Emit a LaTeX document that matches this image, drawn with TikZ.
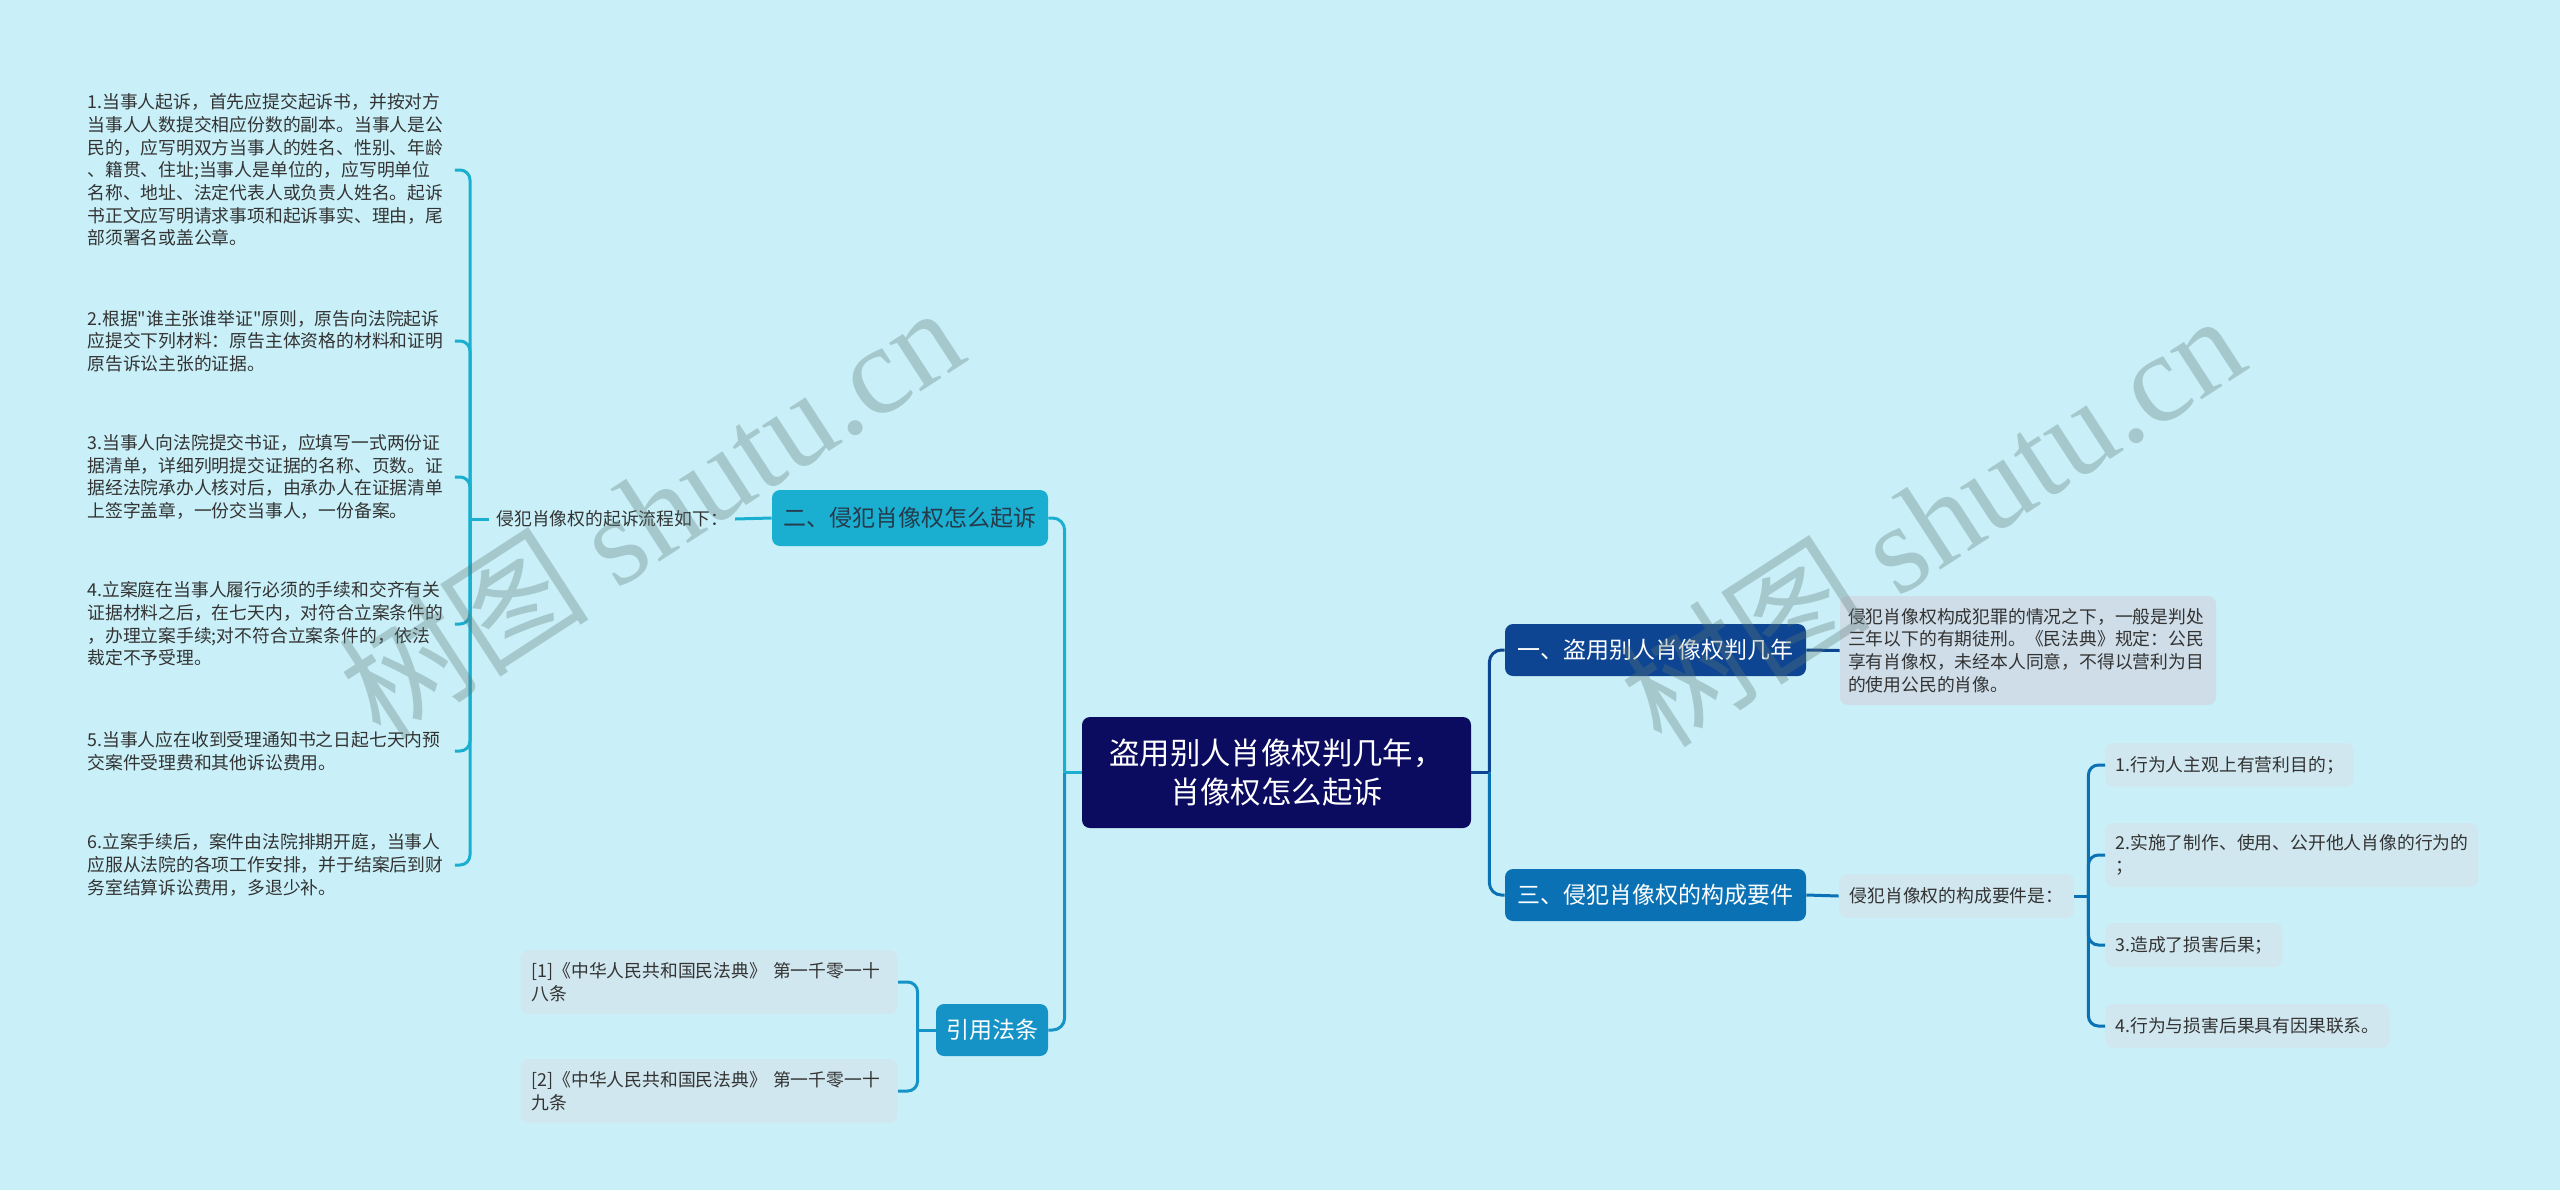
\documentclass[tikz,border=0pt]{standalone}
\usepackage{fontspec}
\setmainfont{Noto Sans CJK SC}
\newfontfamily\qtfont{Noto Sans CJK SC}
\newfontfamily\wmserif{Liberation Serif}
\usetikzlibrary{calc}
\definecolor{bgc}{HTML}{C9F0F8}
\definecolor{cnavy}{HTML}{0B0B60}
\definecolor{ccyan}{HTML}{1AAFD0}
\definecolor{cblue}{HTML}{1593C6}
\definecolor{cdark}{HTML}{0E4592}
\definecolor{cmid}{HTML}{0A72B4}
\definecolor{cdetail}{HTML}{CEDDE8}
\definecolor{cleaf}{HTML}{D0E7EF}
\definecolor{ctext}{HTML}{333333}
\definecolor{cbtext}{HTML}{253B4C}
\definecolor{cwm}{HTML}{5E7875}
\begin{document}
\begin{tikzpicture}[x=0.5pt,y=-0.5pt,
  conn/.style={draw=#1, line width=1.5pt},
  leaf/.style={font=\fontsize{8.9}{11.35}\selectfont, text=ctext, align=left, inner xsep=3.5pt, inner ysep=3pt},
  lbox/.style={leaf, fill=cleaf, rounded corners=4pt},
  branch/.style={font=\fontsize{11.5}{14}\selectfont, rounded corners=4pt, inner sep=0pt, align=center},
  wmark/.style={rotate=33, text=cwm, text opacity=0.33, font=\fontsize{63}{70}\selectfont}
]
\fill[bgc] (0,0) rectangle (2560,1190);
\useasboundingbox (0,0) rectangle (2560,1190);

% central node
\node[branch, fill=cnavy, text=white, minimum width=194.5pt, minimum height=55.5pt,
  font=\fontsize{15.2}{19.5}\selectfont] (c) at (1276.5,772.5)
  {盗用别人肖像权判几年，\\肖像权怎么起诉};

% main branches
\node[branch, fill=ccyan, text=cbtext, minimum width=138pt, minimum height=28pt] (b2) at (910,518) {二、侵犯肖像权怎么起诉};
\node[branch, fill=cblue, text=white, minimum width=56pt, minimum height=26pt] (bq) at (992,1030) {引用法条};
\node[branch, fill=cdark, text=white, minimum width=150.5pt, minimum height=26pt] (b1) at (1655.5,650) {一、盗用别人肖像权判几年};
\node[branch, fill=cmid, text=white, minimum width=150.5pt, minimum height=26pt] (b3) at (1655.5,895) {三、侵犯肖像权的构成要件};

% branch 2 children
\node[leaf, anchor=west] (p2) at (489,519) {侵犯肖像权的起诉流程如下：};
\node[leaf, anchor=west, text width=180pt] (l1) at (80,170) {1.当事人起诉，首先应提交起诉书，并按对方\\当事人人数提交相应份数的副本。当事人是公\\民的，应写明双方当事人的姓名、性别、年龄\\、籍贯、住址;当事人是单位的，应写明单位\\名称、地址、法定代表人或负责人姓名。起诉\\书正文应写明请求事项和起诉事实、理由，尾\\部须署名或盖公章。};
\node[leaf, anchor=west, text width=180pt] (l2) at (80,341) {2.根据{\qtfont"}谁主张谁举证{\qtfont"}原则，原告向法院起诉\\应提交下列材料：原告主体资格的材料和证明\\原告诉讼主张的证据。};
\node[leaf, anchor=west, text width=180pt] (l3) at (80,477) {3.当事人向法院提交书证，应填写一式两份证\\据清单，详细列明提交证据的名称、页数。证\\据经法院承办人核对后，由承办人在证据清单\\上签字盖章，一份交当事人，一份备案。};
\node[leaf, anchor=west, text width=180pt] (l4) at (80,624) {4.立案庭在当事人履行必须的手续和交齐有关\\证据材料之后，在七天内，对符合立案条件的\\，办理立案手续;对不符合立案条件的，依法\\裁定不予受理。};
\node[leaf, anchor=west, text width=180pt] (l5) at (80,751) {5.当事人应在收到受理通知书之日起七天内预\\交案件受理费和其他诉讼费用。};
\node[leaf, anchor=west, text width=180pt] (l6) at (80,865) {6.立案手续后，案件由法院排期开庭，当事人\\应服从法院的各项工作安排，并于结案后到财\\务室结算诉讼费用，多退少补。};

% citations
\node[lbox, anchor=east, text width=177.5pt, inner xsep=5.5pt, minimum height=32pt] (q1) at (898,982) {[1]《中华人民共和国民法典》 第一千零一十\\八条};
\node[lbox, anchor=east, text width=177.5pt, inner xsep=5.5pt, minimum height=32pt] (q2) at (898,1091) {[2]《中华人民共和国民法典》 第一千零一十\\九条};

% branch 1 child
\node[leaf, fill=cdetail, rounded corners=4pt, text width=180pt, inner xsep=4pt, minimum height=54.5pt] (d1) at (2028,650.5) {侵犯肖像权构成犯罪的情况之下，一般是判处\\三年以下的有期徒刑。《民法典》规定：公民\\享有肖像权，未经本人同意，不得以营利为目\\的使用公民的肖像。};

% branch 3 children
\node[lbox, minimum width=117.5pt, minimum height=22pt] (p3) at (1956.5,896) {侵犯肖像权的构成要件是：};
\node[lbox, anchor=west, inner xsep=5pt, minimum height=22pt] (r1) at (2105,765) {1.行为人主观上有营利目的；};
\node[lbox, anchor=west, inner xsep=5pt, minimum height=32pt] (r2) at (2105,855) {2.实施了制作、使用、公开他人肖像的行为的\\；};
\node[lbox, anchor=west, inner xsep=5pt, minimum height=22pt] (r3) at (2105,945) {3.造成了损害后果；};
\node[lbox, anchor=west, inner xsep=5pt, minimum height=22pt] (r4) at (2105,1026) {4.行为与损害后果具有因果联系。};

% connectors: centre
\draw[conn=ccyan] (c.west) -- ++(-17,0) coordinate (jl);
\draw[conn=ccyan, rounded corners=6pt] (jl) |- (b2.east);
\draw[conn=cblue, rounded corners=6pt] (jl) |- (bq.east);
\draw[conn=cdark] (c.east) -- ++(18,0) coordinate (jr);
\draw[conn=cdark, rounded corners=6pt] (jr) |- (b1.west);
\draw[conn=cmid, rounded corners=6pt] (jr) |- (b3.west);

% branch 2
\draw[conn=ccyan] (b2.west) -- (p2.east);
\draw[conn=ccyan] (p2.west) -- ++(-19,0) coordinate (j2);
\foreach \n in {l1,l2,l3,l4,l5,l6}
  \draw[conn=ccyan, rounded corners=5pt] (j2) |- (\n.east);

% citations
\draw[conn=cblue] (bq.west) -- ++(-18,0) coordinate (jq);
\foreach \n in {q1,q2}
  \draw[conn=cblue, rounded corners=5pt] (jq) |- (\n.east);

% branch 1
\draw[conn=cdark] (b1.east) -- (d1.west);

% branch 3
\draw[conn=cmid] (b3.east) -- (p3.west);
\draw[conn=cmid] (p3.east) -- ++(14,0) coordinate (j3);
\foreach \n in {r1,r2,r3,r4}
  \draw[conn=cmid, rounded corners=5pt] (j3) |- (\n.west);

% watermarks
\node[wmark] (wm1) at (650,511) {树图 {\wmserif shutu.cn}};
\node[wmark] (wm2) at (1931,519) {树图 {\wmserif shutu.cn}};
\end{tikzpicture}
\end{document}
